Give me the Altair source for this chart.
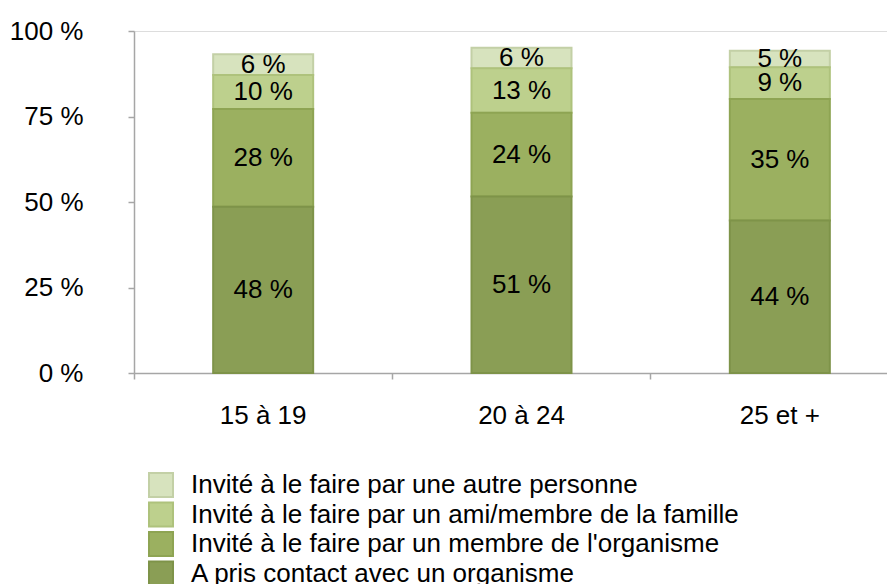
import altair as alt
import pandas as pd

categories = ["15 à 19", "20 à 24", "25 et +"]
series = [
    "Invité à le faire par une autre personne",
    "Invité à le faire par un ami/membre de la famille",
    "Invité à le faire par un membre de l'organisme",
    "A pris contact avec un organisme",
]
stack_rank = [3, 2, 1, 0]
autre = [6.1, 6.0, 4.8]
ami = [9.9, 13.0, 9.3]
membre = [28.6, 24.5, 35.5]
contact = [48.6, 51.6, 44.6]
labels_autre = ["6 %", "6 %", "5 %"]
labels_ami = ["10 %", "13 %", "9 %"]
labels_membre = ["28 %", "24 %", "35 %"]
labels_contact = ["48 %", "51 %", "44 %"]
y_ticks = [0, 25, 50, 75, 100]

fill_colors = ["#D7E3BE", "#BDD08D", "#9BB060", "#8A9E55"]
stroke_colors = ["#C3D0A6", "#AEC27C", "#8EA453", "#7E9349"]

values = [autre, ami, membre, contact]
labels = [labels_autre, labels_ami, labels_membre, labels_contact]
rows = []
for s, r, vals, labs in zip(series, stack_rank, values, labels):
    for c, v, l in zip(categories, vals, labs):
        rows.append({"age": c, "serie": s, "rank": r, "value": v, "label": l})
df = pd.DataFrame(rows)

FONT = "Liberation Sans"

x_enc = alt.X(
    "age:N",
    sort=categories,
    scale=alt.Scale(range=[0, 775], paddingInner=0, paddingOuter=0),
    axis=alt.Axis(
        title=None,
        labelAngle=0,
        bandPosition=0,
        tickSize=6,
        labelPadding=23,
        labelFontSize=26,
        labelFont=FONT,
        labelColor="#000000",
        domainColor="#A6A6A6",
        tickColor="#A6A6A6",
        domainWidth=1.5,
        tickWidth=1.5,
    ),
)

y_scale = alt.Scale(domain=[0, 100])

legend_kw = dict(
    title=None,
    orient="none",
    legendX=14,
    legendY=441,
    symbolType="square",
    symbolSize=576,
    symbolStrokeWidth=2,
    labelFontSize=26,
    labelFont=FONT,
    labelColor="#000000",
    labelOffset=17,
    rowPadding=-2.5,
    padding=0,
    labelLimit=800,
)

base = alt.Chart(df)

bars = base.mark_bar(width=100, strokeWidth=2).encode(
    x=x_enc,
    y=alt.Y(
        "value:Q",
        stack="zero",
        scale=y_scale,
        axis=alt.Axis(
            title=None,
            values=y_ticks,
            labelExpr="datum.value + ' %'",
            tickSize=6,
            labelPadding=45,
            labelFontSize=26,
            labelFont=FONT,
            labelColor="#000000",
            domainColor="#A6A6A6",
            tickColor="#A6A6A6",
            domainWidth=1.5,
            tickWidth=1.5,
            grid=False,
        ),
    ),
    color=alt.Color(
        "serie:N",
        scale=alt.Scale(domain=series, range=fill_colors),
        legend=alt.Legend(**legend_kw),
    ),
    stroke=alt.Stroke(
        "serie:N",
        scale=alt.Scale(domain=series, range=stroke_colors),
        legend=alt.Legend(**legend_kw),
    ),
    order=alt.Order("rank:Q", sort="ascending"),
)

texts = (
    base.transform_stack(
        stack="value",
        groupby=["age"],
        sort=[alt.SortField("rank", order="ascending")],
        as_=["v0", "v1"],
    )
    .transform_calculate(mid="(datum.v0 + datum.v1) / 2")
    .mark_text(font=FONT, fontSize=26, color="#000000", baseline="middle", align="center")
    .encode(
        x=x_enc,
        y=alt.Y("mid:Q", scale=y_scale),
        text="label:N",
    )
)

chart = (
    alt.layer(bars, texts)
    .properties(
        width=753,
        height=342,
        autosize=alt.AutoSizeParams(type="none"),
        padding={"left": 126, "top": 23, "right": 0, "bottom": 211},
    )
    .configure_view(stroke=None)
    .configure(background="#FFFFFF")
)

chart.save("out.html", embed_options={"renderer": "svg", "actions": False})
